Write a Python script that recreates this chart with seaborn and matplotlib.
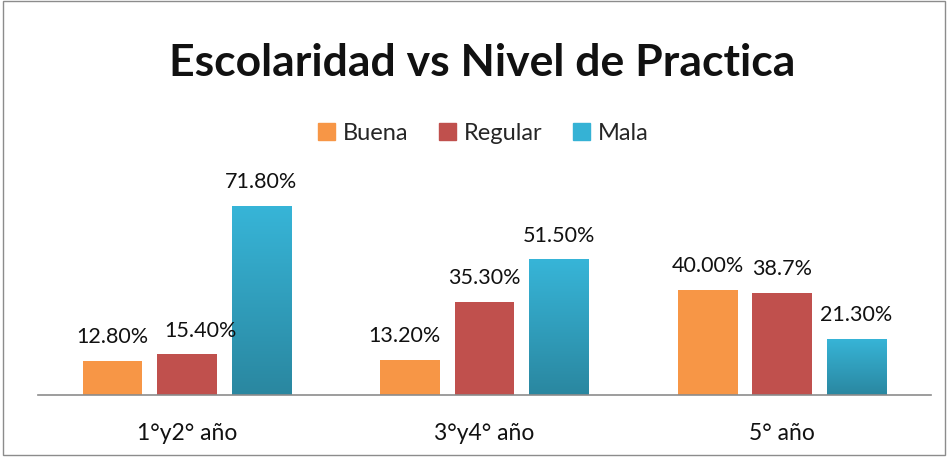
import matplotlib
matplotlib.use("Agg")
import matplotlib.pyplot as plt
import seaborn as sns
import pandas as pd
import numpy as np
from matplotlib.patches import Rectangle
from matplotlib.colors import LinearSegmentedColormap

categories = ["1°y2° año", "3°y4° año", "5° año"]
series = ["Buena", "Regular", "Mala"]
buena = [12.8, 13.2, 40.0]
regular = [15.4, 35.3, 38.7]
mala = [71.8, 51.5, 21.3]
label_buena = ["12.80%", "13.20%", "40.00%"]
label_regular = ["15.40%", "35.30%", "38.7%"]
label_mala = ["71.80%", "51.50%", "21.30%"]

colors = ["#F79646", "#C0504D", "#35B2D5"]

rows = []
for s, vals in zip(series, [buena, regular, mala]):
    for c, v in zip(categories, vals):
        rows.append({"grado": c, "nivel": s, "valor": v})
df = pd.DataFrame(rows)

sns.set_theme(style="white")
plt.rcParams['font.family'] = ['Lato', 'DejaVu Sans']

fig = plt.figure(figsize=(9.48, 4.57), dpi=100)
ax = fig.add_axes([0.0401, 0.1357, 0.942, 0.4608])

sns.barplot(data=df, x="grado", y="valor", hue="nivel", order=categories,
            hue_order=series, palette=colors, width=0.75, gap=0.2,
            ax=ax, legend=False, saturation=1, edgecolor="none")

ax.set_ylim(0, 80)
ax.set_xlim(-0.5, 2.5)
for sp in ["top", "right", "left"]:
    ax.spines[sp].set_visible(False)
ax.spines["bottom"].set_color("#8c8c8c")
ax.spines["bottom"].set_linewidth(1.2)
ax.set_yticks([])
ax.set_xlabel("")
ax.set_ylabel("")
ax.tick_params(axis="x", length=0, pad=20, labelsize=16.5, colors="#111111")

# gradient for the blue bars
cmap = LinearSegmentedColormap.from_list("blu", ["#2A87A0", "#37B5D8"])
grad = np.linspace(0, 1, 256).reshape(-1, 1)
containers = ax.containers
for bar in containers[2]:
    x0, y0 = bar.get_x(), bar.get_y()
    w, h = bar.get_width(), bar.get_height()
    im = ax.imshow(grad, cmap=cmap, aspect="auto", origin="lower",
                   extent=[x0, x0 + w, y0, y0 + h], zorder=bar.get_zorder())
    im.set_clip_path(bar)
ax.set_xlim(-0.5, 2.5)
ax.set_ylim(0, 80)

labels_all = [label_buena, label_regular, label_mala]
offsets = {(1, 0): 10, (0, 1): -4}
for si, cont in enumerate(containers):
    for ci, bar in enumerate(cont):
        xc = bar.get_x() + bar.get_width() / 2
        top = bar.get_height()
        dx = offsets.get((si, ci), 0)
        ax.annotate(labels_all[si][ci], (xc, top), xytext=(dx, 10),
                    textcoords="offset points", ha="center", va="bottom",
                    fontsize=15.5, color="#111111", annotation_clip=False)

fig.text(0.509, 0.862, "Escolaridad vs Nivel de Practica", ha="center",
         va="center", fontsize=32, fontweight="bold", color="#111111")

handles = [Rectangle((0, 0), 1, 1, color=c) for c in colors]
fig.legend(handles, series, loc="center", bbox_to_anchor=(0.51, 0.708),
           ncol=3, frameon=False, fontsize=17, handlelength=0.7,
           handleheight=0.7, handletextpad=0.35, columnspacing=1.3)

fig.add_artist(Rectangle((0.003, 0.004), 0.994, 0.994, transform=fig.transFigure,
                         fill=False, edgecolor="#8c8c8c", linewidth=1.0))

fig.savefig("out.png", dpi=100)
